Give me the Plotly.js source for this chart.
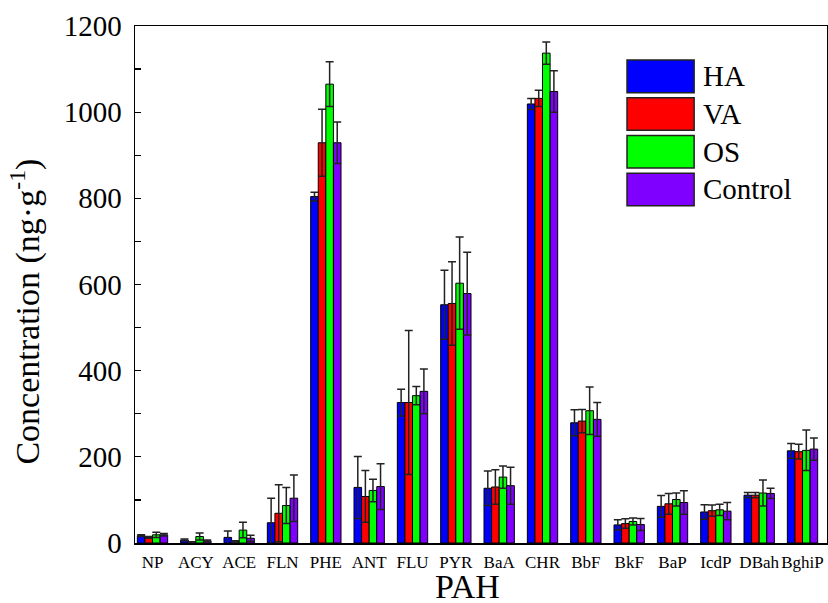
<!DOCTYPE html>
<html>
<head>
<meta charset="utf-8">
<script src="https://cdn.plot.ly/plotly-3.0.1.min.js"></script>
<style>html,body{margin:0;padding:0;background:#fff;}#chart{width:828px;height:603px;}</style>
</head>
<body>
<div id="chart"></div>
<script>
const categories = ["NP","ACY","ACE","FLN","PHE","ANT","FLU","PYR","BaA","CHR","BbF","BkF","BaP","IcdP","DBah","BghiP"];
const seriesNames = ["HA","VA","OS","Control"];
const haValues = [17, 7, 13, 47, 804, 129, 326, 553, 127, 1019, 279, 42, 85, 72, 111, 214];
const haErrors = [2, 2, 15, 57, 10, 72, 31, 80, 40, 13, 30, 12, 25, 17, 6, 17];
const vaValues = [13, 2, 3, 69, 929, 108, 326, 556, 130, 1032, 283, 45, 91, 75, 111, 212];
const vaErrors = [2, 1, 2, 66, 78, 60, 167, 97, 40, 19, 27, 11, 24, 13, 6, 17];
const osValues = [19, 15, 30, 87, 1065, 122, 342, 603, 153, 1137, 307, 50, 101, 77, 116, 215];
const osErrors = [6, 8, 18, 42, 52, 26, 21, 107, 26, 26, 55, 8, 15, 13, 30, 47];
const controlValues = [19, 5, 11, 104, 929, 131, 352, 579, 133, 1048, 287, 43, 94, 74, 115, 218];
const controlErrors = [3, 2, 7, 54, 48, 53, 52, 96, 43, 48, 39, 14, 27, 20, 12, 26];

const colors = ["#0000FF", "#FF0000", "#00FF00", "#8000FF"];
const allValues = [haValues, vaValues, osValues, controlValues];
const allErrors = [haErrors, vaErrors, osErrors, controlErrors];
const FONT = "Liberation Serif, Times New Roman, serif";
const xTitle = "PAH";
const yTitle = "Concentration (ng·g<sup>-1</sup>)";

const traces = seriesNames.map((name, i) => ({
  type: "bar",
  name: name,
  x: categories,
  y: allValues[i],
  marker: {color: colors[i], line: {color: "#000", width: 1}},
  error_y: {type: "data", array: allErrors[i], visible: true, color: "#222", thickness: 1.5, width: 4},
  showlegend: false
}));

// custom legend (large boxes like the reference)
const shapes = [];
const annotations = [];
const boxX0 = 0.711, boxX1 = 0.808, topY = 0.934, step = 0.0729, boxH = 0.0629;
seriesNames.forEach((name, i) => {
  const y1 = topY - i * step;
  const y0 = y1 - boxH;
  shapes.push({type: "rect", xref: "paper", yref: "paper", x0: boxX0, x1: boxX1, y0: y0, y1: y1,
    fillcolor: colors[i], line: {color: "#222", width: 1.5}});
  annotations.push({xref: "paper", yref: "paper", x: 0.818, y: (y0 + y1) / 2, xanchor: "left", yanchor: "middle",
    text: name, showarrow: false, font: {family: FONT, size: 29, color: "#000"}});
});
// axis titles
annotations.push({xref: "paper", yref: "paper", x: 0.481, y: -0.084, xanchor: "center", yanchor: "middle",
  text: xTitle, showarrow: false, font: {family: FONT, size: 34, color: "#000"}});
annotations.push({xref: "paper", yref: "paper", x: -0.158, y: 0.447, xanchor: "center", yanchor: "middle",
  textangle: -90, text: yTitle, showarrow: false, font: {family: FONT, size: 34, color: "#000"}});

const layout = {
  width: 828, height: 603,
  margin: {l: 135, r: 1, t: 26, b: 60},
  paper_bgcolor: "#fff", plot_bgcolor: "#fff",
  barmode: "group", bargap: 0.3, bargroupgap: 0,
  font: {family: FONT, color: "#000"},
  xaxis: {
    type: "category", range: [-0.404, 15.565],
    showline: true, linecolor: "#000", linewidth: 1.5, mirror: true,
    ticks: "", showgrid: false, zeroline: false, tickangle: 0,
    tickfont: {family: FONT, size: 17, color: "#000"},
    ticklabelstandoff: 3,
    automargin: false
  },
  yaxis: {
    range: [0, 1200], dtick: 200, tick0: 0,
    showline: true, linecolor: "#000", linewidth: 1.5, mirror: true,
    ticks: "inside", ticklen: 6, tickwidth: 1.2, tickcolor: "#000",
    minor: {dtick: 100, ticks: "inside", ticklen: 6, tickwidth: 1.2, tickcolor: "#000"},
    showgrid: false, zeroline: false,
    tickfont: {family: FONT, size: 29, color: "#000"},
    ticklabelstandoff: 6,
    automargin: false
  },
  shapes: shapes,
  annotations: annotations
};

Plotly.newPlot("chart", traces, layout, {displayModeBar: false, staticPlot: true});
</script>
</body>
</html>
